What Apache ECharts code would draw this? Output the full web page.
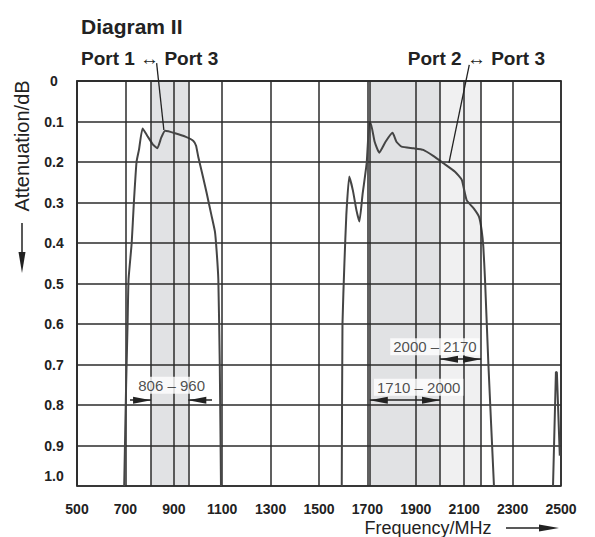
<!DOCTYPE html>
<html>
<head>
<meta charset="utf-8">
<script src="https://cdn.jsdelivr.net/npm/echarts@6/dist/echarts.min.js"></script>
<style>
  html, body { margin: 0; padding: 0; background: #fff; }
  #chart { width: 595px; height: 537px; }
</style>
</head>
<body>
<div id="chart"></div>
<script>
(function() {
  'use strict';

  var ink = '#222';
  var grid = '#2b2b2b';
  var curve = '#454545';
  var font = '"Liberation Sans", Arial, sans-serif';

  // ========== Data ==========
  var yTickLabels = ['0', '0.1', '0.2', '0.3', '0.4', '0.5', '0.6', '0.7', '0.8', '0.9', '1.0'];

  // Port 1 <-> Port 3 (frequency MHz, attenuation dB)
  var port1Freq = [695, 703, 709, 713, 726, 735, 746, 756, 771, 790, 815, 832, 848, 864, 905, 950, 981, 992, 1001, 1020, 1036, 1055, 1070, 1077, 1084, 1090, 1095];
  var port1Att = [1.0, 0.75, 0.6, 0.49, 0.4, 0.3, 0.2, 0.17, 0.117, 0.135, 0.158, 0.166, 0.14, 0.123, 0.129, 0.138, 0.148, 0.16, 0.187, 0.235, 0.277, 0.33, 0.372, 0.42, 0.49, 0.7, 1.0];

  // Port 2 <-> Port 3
  var port2Freq = [1594, 1597, 1605, 1613, 1625, 1640, 1655, 1667, 1680, 1697, 1707, 1713, 1730, 1749, 1775, 1804, 1820, 1841, 1890, 1931, 1972, 2014, 2062, 2090, 2110, 2140, 2161, 2172, 2179, 2186, 2200, 2223];
  var port2Att = [1.0, 0.6, 0.45, 0.33, 0.236, 0.27, 0.32, 0.347, 0.28, 0.203, 0.104, 0.103, 0.15, 0.177, 0.15, 0.128, 0.15, 0.162, 0.166, 0.17, 0.185, 0.203, 0.224, 0.244, 0.294, 0.315, 0.335, 0.368, 0.409, 0.49, 0.7, 1.0];

  // small trace at the right edge
  var stubFreq = [2467, 2479, 2483, 2495];
  var stubAtt = [1.0, 0.718, 0.72, 0.925];

  // pass bands
  var bandStart = [806, 1710, 2000];
  var bandEnd = [960, 2000, 2170];
  var bandEdges = [806, 960, 1710, 2000, 2170];

  // dimension arrows: from, to, level
  var dimFrom = [719, 1058, 1710, 2000];
  var dimTo = [806, 960, 2000, 2170];
  var dimLevel = [0.788, 0.788, 0.788, 0.687];
  var dimBothEnds = [false, false, true, true];

  // range labels
  var rangeText = ['806 – 960', '1710 – 2000', '2000 – 2170'];
  var rangeFreq = [891, 1912, 1979];
  var rangeLevel = [0.751, 0.756, 0.656];

  // leader lines from the port captions to the curves
  var leader1 = [[829, -0.044], [859, 0.121]];
  var leader2 = [[2121, -0.04], [2037, 0.202]];

  function pairs(xs, ys) {
    return xs.map(function(x, i) { return [x, ys[i]]; });
  }

  var head = { symbol: 'triangle', symbolSize: [7, 18], symbolOffset: [0, 9] };

  var chart = echarts.init(document.getElementById('chart'), null, { renderer: 'svg' });
  chart.setOption({
    animation: false,
    textStyle: { fontFamily: font },
    title: [
      { text: 'Diagram II', left: 76, top: 11, textStyle: { fontSize: 21, fontWeight: 'bold', color: ink, fontFamily: font } },
      { text: 'Port 1 ↔ Port 3', left: 76, top: 44, textStyle: { fontSize: 19, fontWeight: 'bold', color: ink, fontFamily: font } },
      { text: 'Port 2 ↔ Port 3', right: 45, top: 44, textStyle: { fontSize: 19, fontWeight: 'bold', color: ink, fontFamily: font } }
    ],
    grid: { left: 77, right: 34, top: 81, bottom: 51, show: true, borderColor: grid, borderWidth: 1.5, z: 2 },
    xAxis: {
      type: 'value',
      min: 500,
      max: 2500,
      interval: 200,
      z: 2,
      axisLine: { show: true, lineStyle: { color: grid, width: 1.5 } },
      axisTick: { show: false },
      axisLabel: {
        color: ink, fontSize: 14, fontWeight: 'bold', margin: 16, fontFamily: font,
        formatter: function(v) { return String(v); }
      },
      splitLine: { show: true, lineStyle: { color: grid, width: 1.5 } }
    },
    yAxis: {
      type: 'value',
      inverse: true,
      min: 0,
      max: 1,
      interval: 0.1,
      z: 2,
      axisLine: { show: true, lineStyle: { color: grid, width: 1.5 } },
      axisTick: { show: false },
      axisLabel: {
        color: ink, fontSize: 14, fontWeight: 'bold', align: 'center', margin: 23, fontFamily: font,
        formatter: function(v) {
          var i = Math.round(v * 10);
          return i === 10 ? '{low|' + yTickLabels[i] + '}' : yTickLabels[i];
        },
        rich: { low: { color: ink, fontSize: 14, fontWeight: 'bold', fontFamily: font, padding: [0, 0, 20, 0] } }
      },
      splitLine: { show: true, lineStyle: { color: grid, width: 1.5 } }
    },
    graphic: [
      { type: 'text', x: 22, y: 146, rotation: Math.PI / 2, style: { text: 'Attenuation/dB', fontSize: 20, fontFamily: font, fill: ink, align: 'center', verticalAlign: 'middle' } },
      { type: 'line', shape: { x1: 22, y1: 223, x2: 22, y2: 258 }, style: { stroke: ink, lineWidth: 1.5 } },
      { type: 'polygon', shape: { points: [[18.5, 252], [25.5, 252], [22, 273]] }, style: { fill: ink } },
      { type: 'text', x: 428, y: 528, style: { text: 'Frequency/MHz', fontSize: 18, fontFamily: font, fill: ink, align: 'center', verticalAlign: 'middle' } },
      { type: 'line', shape: { x1: 506, y1: 528, x2: 545, y2: 528 }, style: { stroke: ink, lineWidth: 1.5 } },
      { type: 'polygon', shape: { points: [[539, 524.5], [539, 531.5], [559, 528]] }, style: { fill: ink } }
    ],
    series: [
      {
        // shaded bands and their edge lines
        type: 'line',
        data: [],
        z: 1,
        silent: true,
        markArea: {
          silent: true,
          data: bandStart.map(function(s, i) {
            return [
              { xAxis: s, itemStyle: { color: i === 2 ? '#f0f0f1' : '#e1e2e4' } },
              { xAxis: bandEnd[i] }
            ];
          })
        },
        markLine: {
          silent: true,
          symbol: 'none',
          label: { show: false },
          lineStyle: { color: grid, width: 1.5, type: 'solid' },
          data: bandEdges.map(function(f) { return { xAxis: f }; })
        }
      },
      {
        type: 'line',
        data: pairs(port1Freq, port1Att),
        z: 3,
        symbol: 'none',
        smooth: 0.15,
        lineStyle: { color: curve, width: 2 }
      },
      {
        type: 'line',
        data: pairs(port2Freq, port2Att),
        z: 3,
        symbol: 'none',
        smooth: 0.15,
        lineStyle: { color: curve, width: 2 }
      },
      {
        type: 'line',
        data: pairs(stubFreq, stubAtt),
        z: 3,
        symbol: 'none',
        lineStyle: { color: curve, width: 2 }
      },
      {
        type: 'line',
        data: leader1,
        z: 3,
        clip: false,
        symbol: 'none',
        lineStyle: { color: ink, width: 1.3 }
      },
      {
        type: 'line',
        data: leader2,
        z: 3,
        clip: false,
        symbol: 'none',
        lineStyle: { color: ink, width: 1.3 }
      },
      {
        // dimension arrows
        type: 'line',
        data: [],
        z: 4,
        silent: true,
        markLine: {
          silent: true,
          label: { show: false },
          symbolSize: [7, 18],
          lineStyle: { color: ink, width: 1.5, type: 'solid' },
          data: dimFrom.map(function(f, i) {
            var start = { coord: [f, dimLevel[i]], symbol: 'none' };
            if (dimBothEnds[i]) {
              start = Object.assign(start, head);
            }
            return [start, Object.assign({ coord: [dimTo[i], dimLevel[i]] }, head)];
          })
        }
      },
      {
        // range labels
        type: 'scatter',
        z: 5,
        symbolSize: 0,
        silent: true,
        data: rangeText.map(function(t, i) { return [rangeFreq[i], rangeLevel[i], t]; }),
        label: {
          show: true,
          position: 'inside',
          formatter: function(p) { return p.data[2]; },
          color: ink,
          fontSize: 15,
          fontFamily: font,
          backgroundColor: '#fff',
          padding: [1, 3]
        }
      }
    ]
  });
})();
</script>
</body>
</html>
